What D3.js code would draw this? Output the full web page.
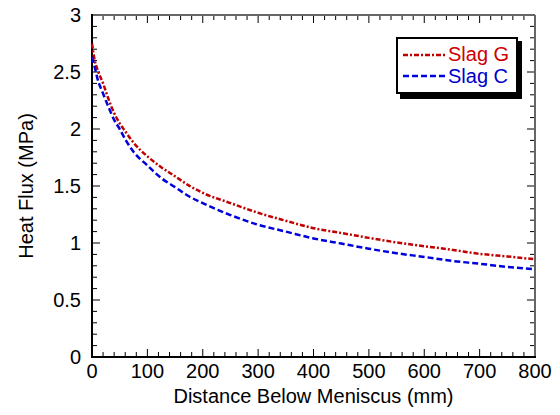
<!DOCTYPE html>
<html><head><meta charset="utf-8">
<script src="https://cdn.jsdelivr.net/npm/d3@7"></script>
<style>body{margin:0;background:#fff}svg{display:block}text{font-family:"Liberation Sans",Arial,sans-serif}</style>
</head><body><svg id="c" width="560" height="415"></svg>
<script>
const distance = [0,5,10,20,30,40,50,60,75,100,125,150,180,200,250,300,350,400,450,500,550,600,650,700,750,800];
const slagG = [2.75,2.60,2.52,2.40,2.26,2.14,2.05,1.98,1.88,1.76,1.665,1.585,1.49,1.44,1.35,1.265,1.195,1.13,1.088,1.045,1.005,0.972,0.94,0.905,0.882,0.857];
const distanceC = [0,5,10,20,30,40,50,60,75,100,125,150,175,200,250,300,350,400,450,500,550,600,650,700,750,800];
const slagC = [2.63,2.54,2.44,2.31,2.19,2.08,2.00,1.91,1.80,1.68,1.57,1.49,1.41,1.35,1.245,1.16,1.10,1.04,0.995,0.95,0.91,0.878,0.843,0.818,0.79,0.77];
const xTicks = [0,100,200,300,400,500,600,700,800];
const yTicks = [0,0.5,1,1.5,2,2.5,3];
const yTickLabels = ["0","0.5","1","1.5","2","2.5","3"];
const seriesNames = ["Slag G","Slag C"];

const svg = d3.select("#c");
const L=92,R=535,T=15,B=357;
const x = d3.scaleLinear().domain([0,800]).range([L,R]);
const y = d3.scaleLinear().domain([0,3]).range([B,T]);

const g = svg.append("g");
const xMinor = d3.range(0,801,20), yMinor = d3.range(0,3.001,0.1);
xMinor.forEach(v=>{
  const major = Math.abs(v%100)<1e-6;
  const len = major?8:5;
  g.append("line").attr("x1",x(v)).attr("x2",x(v)).attr("y1",B).attr("y2",B-len).attr("stroke","#000").attr("stroke-width",1);
  g.append("line").attr("x1",x(v)).attr("x2",x(v)).attr("y1",T).attr("y2",T+len).attr("stroke","#000").attr("stroke-width",1);
});
yMinor.forEach(v=>{
  const major = Math.abs(Math.round(v*10)%5)===0;
  const len = major?8:5;
  g.append("line").attr("x1",L).attr("x2",L+len).attr("y1",y(v)).attr("y2",y(v)).attr("stroke","#000").attr("stroke-width",1);
  g.append("line").attr("x1",R).attr("x2",R-len).attr("y1",y(v)).attr("y2",y(v)).attr("stroke","#000").attr("stroke-width",1);
});
svg.append("line").attr("x1",L).attr("x2",R).attr("y1",T).attr("y2",T).attr("stroke","#666").attr("stroke-width",2);
svg.append("line").attr("x1",R).attr("x2",R).attr("y1",T).attr("y2",B).attr("stroke","#666").attr("stroke-width",2);
svg.append("line").attr("x1",L).attr("x2",L).attr("y1",T-1).attr("y2",B+1).attr("stroke","#000").attr("stroke-width",2);
svg.append("line").attr("x1",L-1).attr("x2",R+1).attr("y1",B).attr("y2",B).attr("stroke","#000").attr("stroke-width",2);

xTicks.forEach(v=>svg.append("text").attr("x",x(v)).attr("y",B+21).attr("text-anchor","middle").attr("font-size",20).text(v));
yTicks.forEach((v,i)=>svg.append("text").attr("x",L-11).attr("y",y(v)+7).attr("text-anchor","end").attr("font-size",20).text(yTickLabels[i]));

svg.append("text").attr("x",(L+R)/2).attr("y",403).attr("text-anchor","middle").attr("font-size",20).text("Distance Below Meniscus (mm)");
svg.append("text").attr("transform",`translate(33,${(T+B)/2}) rotate(-90)`).attr("text-anchor","middle").attr("font-size",20).text("Heat Flux (MPa)");

const line = d3.line().x(d=>x(d[0])).y(d=>y(d[1])).curve(d3.curveMonotoneX);
const red="#c00000", blue="#0000dd";
svg.append("path").datum(distance.map((d,i)=>[d,slagG[i]])).attr("d",line).attr("fill","none").attr("stroke",red).attr("stroke-width",2.5).attr("stroke-dasharray","5,2,2,2");
svg.append("path").datum(distanceC.map((d,i)=>[d,slagC[i]])).attr("d",line).attr("fill","none").attr("stroke",blue).attr("stroke-width",2.5).attr("stroke-dasharray","6,3");

const lg = svg.append("g");
lg.append("rect").attr("x",400).attr("y",41).attr("width",122).attr("height",58).attr("fill","#000");
lg.append("rect").attr("x",397).attr("y",38).attr("width",120).attr("height",55).attr("fill","#fff").attr("stroke","#000").attr("stroke-width",2);
lg.append("line").attr("x1",403).attr("x2",445).attr("y1",55).attr("y2",55).attr("stroke",red).attr("stroke-width",2.5).attr("stroke-dasharray","5,2,2,2");
lg.append("line").attr("x1",403).attr("x2",445).attr("y1",76).attr("y2",76).attr("stroke",blue).attr("stroke-width",2.5).attr("stroke-dasharray","6,3");
lg.append("text").attr("x",448).attr("y",61).attr("font-size",20).attr("fill","#d00000").text(seriesNames[0]);
lg.append("text").attr("x",448).attr("y",83).attr("font-size",20).attr("fill","#0000cc").text(seriesNames[1]);
</script></body></html>
